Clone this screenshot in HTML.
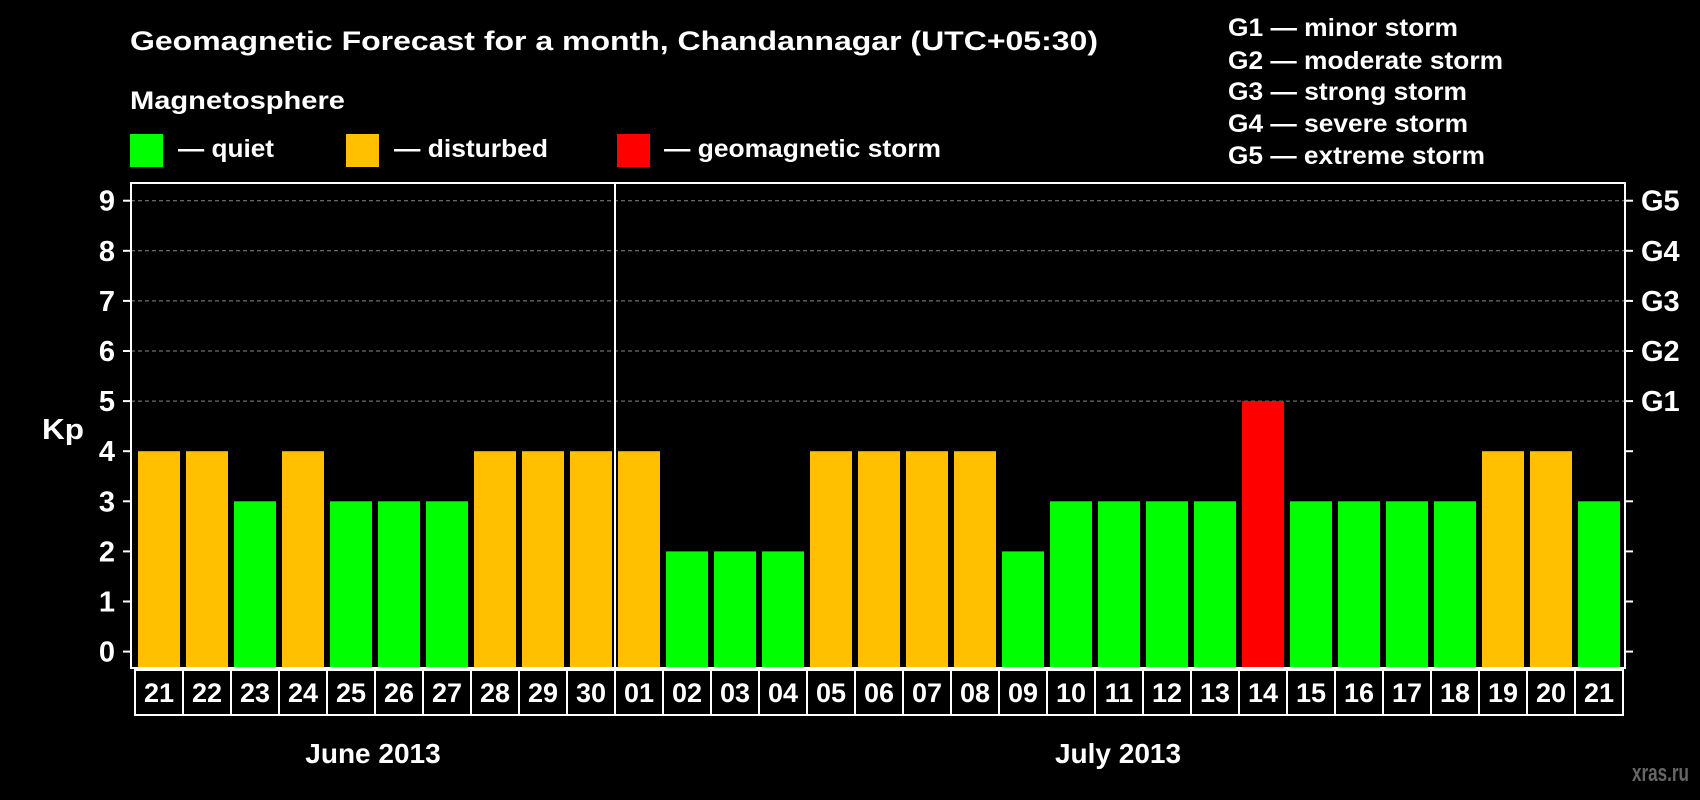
<!DOCTYPE html>
<html><head><meta charset="utf-8"><style>
html,body{margin:0;padding:0;background:#000;}
svg{display:block;font-family:"Liberation Sans",Arial,sans-serif;font-weight:bold;}
</style></head><body>
<svg id="chart" width="1700" height="800" viewBox="0 0 1700 800" xmlns="http://www.w3.org/2000/svg">
<rect x="0" y="0" width="1700" height="800" fill="#000"/>
<text x="130" y="50" fill="#fff" font-size="27" textLength="968" lengthAdjust="spacingAndGlyphs">Geomagnetic Forecast for a month, Chandannagar (UTC+05:30)</text>
<text x="130" y="109" fill="#fff" font-size="25" textLength="215" lengthAdjust="spacingAndGlyphs">Magnetosphere</text>
<g><rect x="130" y="134" width="33" height="33" fill="#00ff00"/><text x="178" y="157" fill="#fff" font-size="25" textLength="96" lengthAdjust="spacingAndGlyphs">— quiet</text></g>
<g><rect x="346" y="134" width="33" height="33" fill="#ffc000"/><text x="394" y="157" fill="#fff" font-size="25" textLength="154" lengthAdjust="spacingAndGlyphs">— disturbed</text></g>
<g><rect x="617" y="134" width="33" height="33" fill="#ff0000"/><text x="664" y="157" fill="#fff" font-size="25" textLength="277" lengthAdjust="spacingAndGlyphs">— geomagnetic storm</text></g>
<g fill="#fff" font-size="25">
<text x="1228" y="36" textLength="230" lengthAdjust="spacingAndGlyphs">G1 — minor storm</text>
<text x="1228" y="69" textLength="275" lengthAdjust="spacingAndGlyphs">G2 — moderate storm</text>
<text x="1228" y="100" textLength="239" lengthAdjust="spacingAndGlyphs">G3 — strong storm</text>
<text x="1228" y="132" textLength="240" lengthAdjust="spacingAndGlyphs">G4 — severe storm</text>
<text x="1228" y="164" textLength="257" lengthAdjust="spacingAndGlyphs">G5 — extreme storm</text>
</g>
<text x="42" y="439" fill="#fff" font-size="29" textLength="42" lengthAdjust="spacingAndGlyphs">Kp</text>
<g id="grid"></g><g id="bars"></g><g id="axes"></g><g id="xlabels"></g>
<text x="373" y="763" fill="#fff" font-size="28" text-anchor="middle">June 2013</text>
<text x="1118" y="763" fill="#fff" font-size="28" text-anchor="middle">July 2013</text>
<text x="1689" y="781" fill="#666" font-size="24" text-anchor="end" textLength="57" lengthAdjust="spacingAndGlyphs">xras.ru</text>
</svg>
<script>
const days = ["21","22","23","24","25","26","27","28","29","30","01","02","03","04","05","06","07","08","09","10","11","12","13","14","15","16","17","18","19","20","21"];
const kpValues = [4,4,3,4,3,3,3,4,4,4,4,2,2,2,4,4,4,4,2,3,3,3,3,5,3,3,3,3,4,4,3];
const yTicks = [0,1,2,3,4,5,6,7,8,9];
const gLabels = ["","","","","","G1","G2","G3","G4","G5"];
const monthBreak = 10;

const NS="http://www.w3.org/2000/svg";
const plotL=131,plotR=1625,plotT=183,plotB=668;
const y0=651.6,unit=50.1,x0=138,pitch=48,bw=42;
function yScale(v){return y0-v*unit;}
function xScale(i){return x0+i*pitch;}
function mk(tag,attrs,parent){const e=document.createElementNS(NS,tag);for(const k in attrs)e.setAttribute(k,attrs[k]);parent.appendChild(e);return e;}
const grid=document.getElementById('grid'),bars=document.getElementById('bars'),axes=document.getElementById('axes'),xl=document.getElementById('xlabels');
yTicks.forEach((v,i)=>{
  const y=yScale(v);
  if(v>=5){const g=mk('line',{x1:plotL,x2:plotR,y1:y,y2:y,stroke:'#888','stroke-width':1,'stroke-dasharray':'4,3'},grid);
  
  }
  const t1=mk('line',{x1:plotL-8,x2:plotL,y1:y,y2:y,stroke:'#fff','stroke-width':2},axes);
  
  
  const t2=mk('line',{x1:plotR,x2:plotR+8,y1:y,y2:y,stroke:'#fff','stroke-width':2},axes);
  
  
  const lt=mk('text',{x:107,y:y+10,fill:'#fff','font-size':29,'text-anchor':'middle'},axes);
  lt.textContent=v;
  
  
  if(gLabels[i]){const gt=mk('text',{x:1641,y:y+10,fill:'#fff','font-size':29},axes);
  gt.textContent=gLabels[i];
  
  }
});
kpValues.forEach((v,i)=>{
  const c=v>=5?'#ff0000':(v>=4?'#ffc000':'#00ff00');
  const b=mk('rect',{x:xScale(i),y:yScale(v),width:bw,height:plotB-yScale(v),fill:c},bars);
  
  
});
const frame=mk('rect',{x:plotL,y:plotT,width:plotR-plotL,height:plotB-plotT,fill:'none',stroke:'#fff','stroke-width':2},axes);


const sep=mk('line',{x1:xScale(monthBreak)-3,x2:xScale(monthBreak)-3,y1:plotT,y2:plotB,stroke:'#fff','stroke-width':2},axes);


days.forEach((d,i)=>{
  const bx=xScale(i)-3;
  const r=mk('rect',{x:bx,y:670,width:pitch,height:45,fill:'#000',stroke:'#fff','stroke-width':2},xl);
  
  
  const t=mk('text',{x:bx+pitch/2,y:702,fill:'#fff','font-size':27,'text-anchor':'middle'},xl);
  t.textContent=d;
  
  
});
</script>
</body></html>
